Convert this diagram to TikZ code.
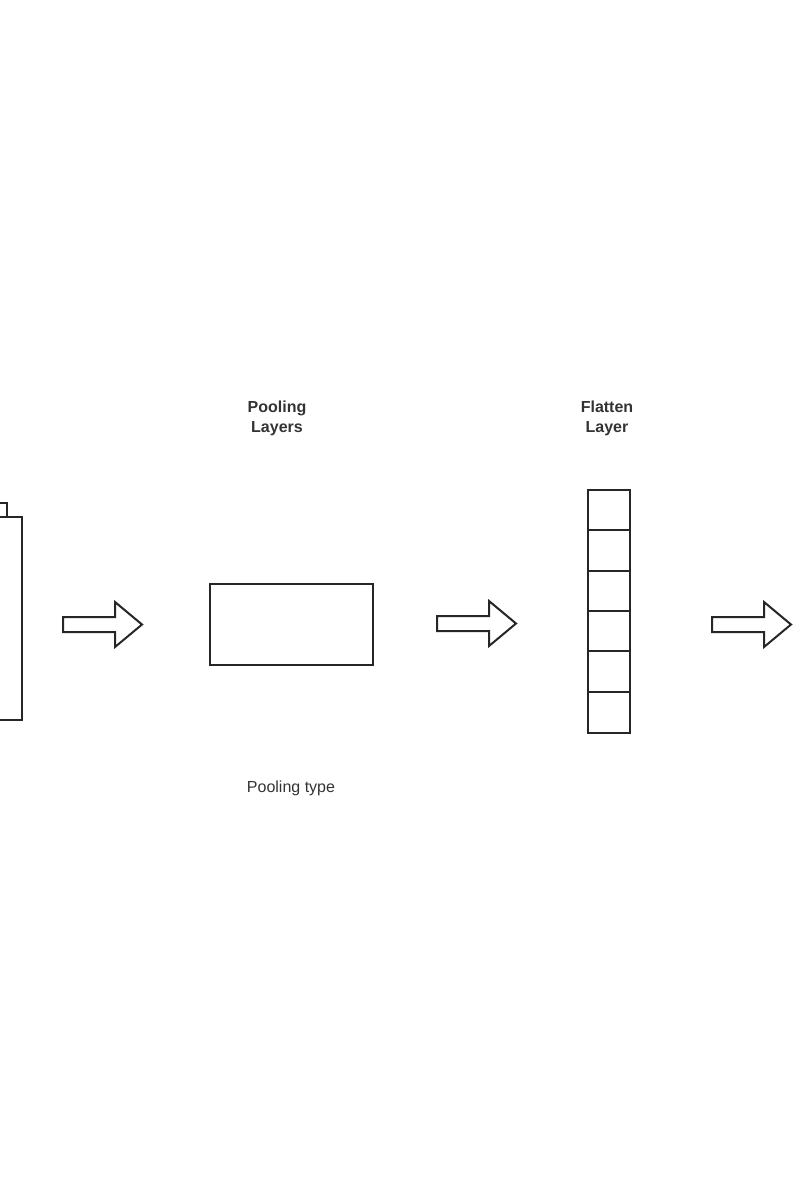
\documentclass[tikz,border=0pt]{standalone}
\usepackage{fontspec}
\setmainfont{Liberation Sans}
\begin{document}
\begin{tikzpicture}[x=1pt,y=-1pt,
  shapeline/.style={draw=black!85,line width=2pt,line join=miter},
  lbl/.style={text=black!80,font=\fontsize{16}{20}\selectfont,align=center,inner sep=0pt},
  title/.style={lbl,font=\fontsize{16}{20}\selectfont\bfseries},
  barrow/.pic={\draw[shapeline] (0,-7.5) -- (52,-7.5) -- (52,-22.5) -- (79,0) -- (52,22.5) -- (52,7.5) -- (0,7.5) -- cycle;}
]
\clip (0,0) rectangle (800,1200);
\useasboundingbox (0,0) rectangle (800,1200);
% left (cut off) layer
\draw[shapeline] (-40,503) rectangle (7,517);
\draw[shapeline] (-40,517) rectangle (22,720);
\coordinate (leftlayer) at (22,624);
% arrows
\pic at (63,624.5) {barrow};
% pooling
\node[title] (pooltitle) at (277,418) {Pooling\\Layers};
\node[shapeline,minimum width=163pt,minimum height=81pt,inner sep=0pt] (pool) at (291.5,624.5) {};
\node[lbl] (pooltype) at (291,788) {Pooling type};
\pic at (437,623.5) {barrow};
% flatten
\node[title] (flattitle) at (607,418) {Flatten\\Layer};
\foreach \i/\t/\b in {0/490/530,1/530/571,2/571/611,3/611/651,4/651/692,5/692/733}{
  \draw[shapeline] (588,\t) rectangle (630,\b);
  \coordinate (cell\i) at (609,\t);
}
\pic at (712,624.5) {barrow};
\end{tikzpicture}
\end{document}
